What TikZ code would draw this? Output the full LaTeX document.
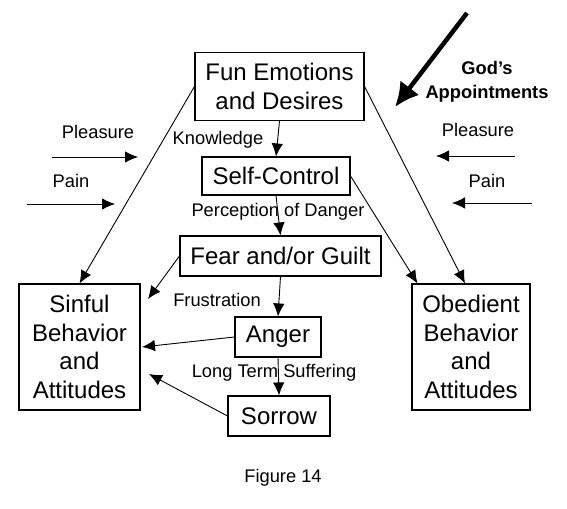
\documentclass[tikz,border=0pt]{standalone}
\usepackage{fontspec}
\setmainfont{Liberation Sans}
\usetikzlibrary{positioning,arrows.meta}

\tikzset{
  box/.style={draw, line width=1.1bp, inner sep=0pt, align=center,
    font=\fontsize{24bp}{28.5bp}\selectfont},
  lbl/.style={inner sep=0pt, font=\fontsize{18.3bp}{21bp}\selectfont},
  flow/.style={line width=0.9bp, -{Latex[length=13bp,width=11.5bp]}},
}

\begin{document}
\begin{tikzpicture}[x=1bp,y=-1bp]

\useasboundingbox (0,0) rectangle (567,509);

% boxes
\node (fun) at (279.5,86.5) [box, minimum width=169bp, minimum height=68bp]{Fun Emotions\\and Desires};
\node (self) at (276,176) [box, minimum width=148bp, minimum height=38bp]{Self-Control};
\node (fear) at (280.5,256) [box, minimum width=201bp, minimum height=40bp]{Fear and/or Guilt};
\node (anger) at (278,337) [box, minimum width=86bp, minimum height=40bp]{Anger};
\node (sorrow) at (279,416) [box, minimum width=102bp, minimum height=40bp]{Sorrow};
\node (sinful) at (79.5,347) [box, minimum width=121bp, minimum height=126bp]{Sinful\\Behavior\\and\\Attitudes};
\node (obed) at (471,347) [box, minimum width=118bp, minimum height=126bp]{Obedient\\Behavior\\and\\Attitudes};

% free ends
\coordinate (fearend) at (148,299);
\coordinate (angerend) at (142,347);
\coordinate (sorrowend) at (149,374);

\draw [flow] (fun.south)--(self.north);
\draw [flow] (self.south)--(fear.north);
\draw [flow] (fear.south)--(anger.north);
\draw [flow] (anger.south)--(sorrow.north);
\draw [flow] (fun.west)--(sinful.north);
\draw [flow] (fun.east)--([xshift=-6bp]obed.north);
\draw [flow] (self.east)--([xshift=6bp]obed.north west);
\draw [flow] (fear.west)--(fearend);
\draw [flow] (anger.west)--(angerend);
\draw [flow] (sorrow.west)--(sorrowend);

% outside pressures
\coordinate (lpa) at (52,157);
\coordinate (lpb) at (138,157);
\coordinate (lqa) at (27,204);
\coordinate (lqb) at (115,204);
\coordinate (rpa) at (515,156);
\coordinate (rpb) at (436,156);
\coordinate (rqa) at (532,203);
\coordinate (rqb) at (452,203);
\draw [flow] (lpa)--(lpb);
\draw [flow] (lqa)--(lqb);
\draw [flow] (rpa)--(rpb);
\draw [flow] (rqa)--(rqb);

\coordinate (goda) at (467,13);
\coordinate (godb) at (395,107);
\draw [line width=4.5bp, -{Latex[length=24bp,width=24bp]}] (goda)--(godb);

% labels
\node (know) at (218,140) [lbl]{Knowledge};
\node (danger) at (278,212) [lbl]{Perception of Danger};
\node (frus) at (217,300) [lbl]{Frustration};
\node (suff) at (274,373) [lbl]{Long Term Suffering};
\node (lplea) at (98,132) [lbl]{Pleasure};
\node (lpain) at (71,181) [lbl]{Pain};
\node (rplea) at (478,130) [lbl]{Pleasure};
\node (rpain) at (487,181) [lbl]{Pain};
\node (god) at (487,82) [lbl, align=center, font=\fontsize{18.3bp}{24bp}\selectfont\bfseries]{God’s\\Appointments};
\node (fig) at (283,478) [lbl]{Figure 14};

\end{tikzpicture}
\end{document}
